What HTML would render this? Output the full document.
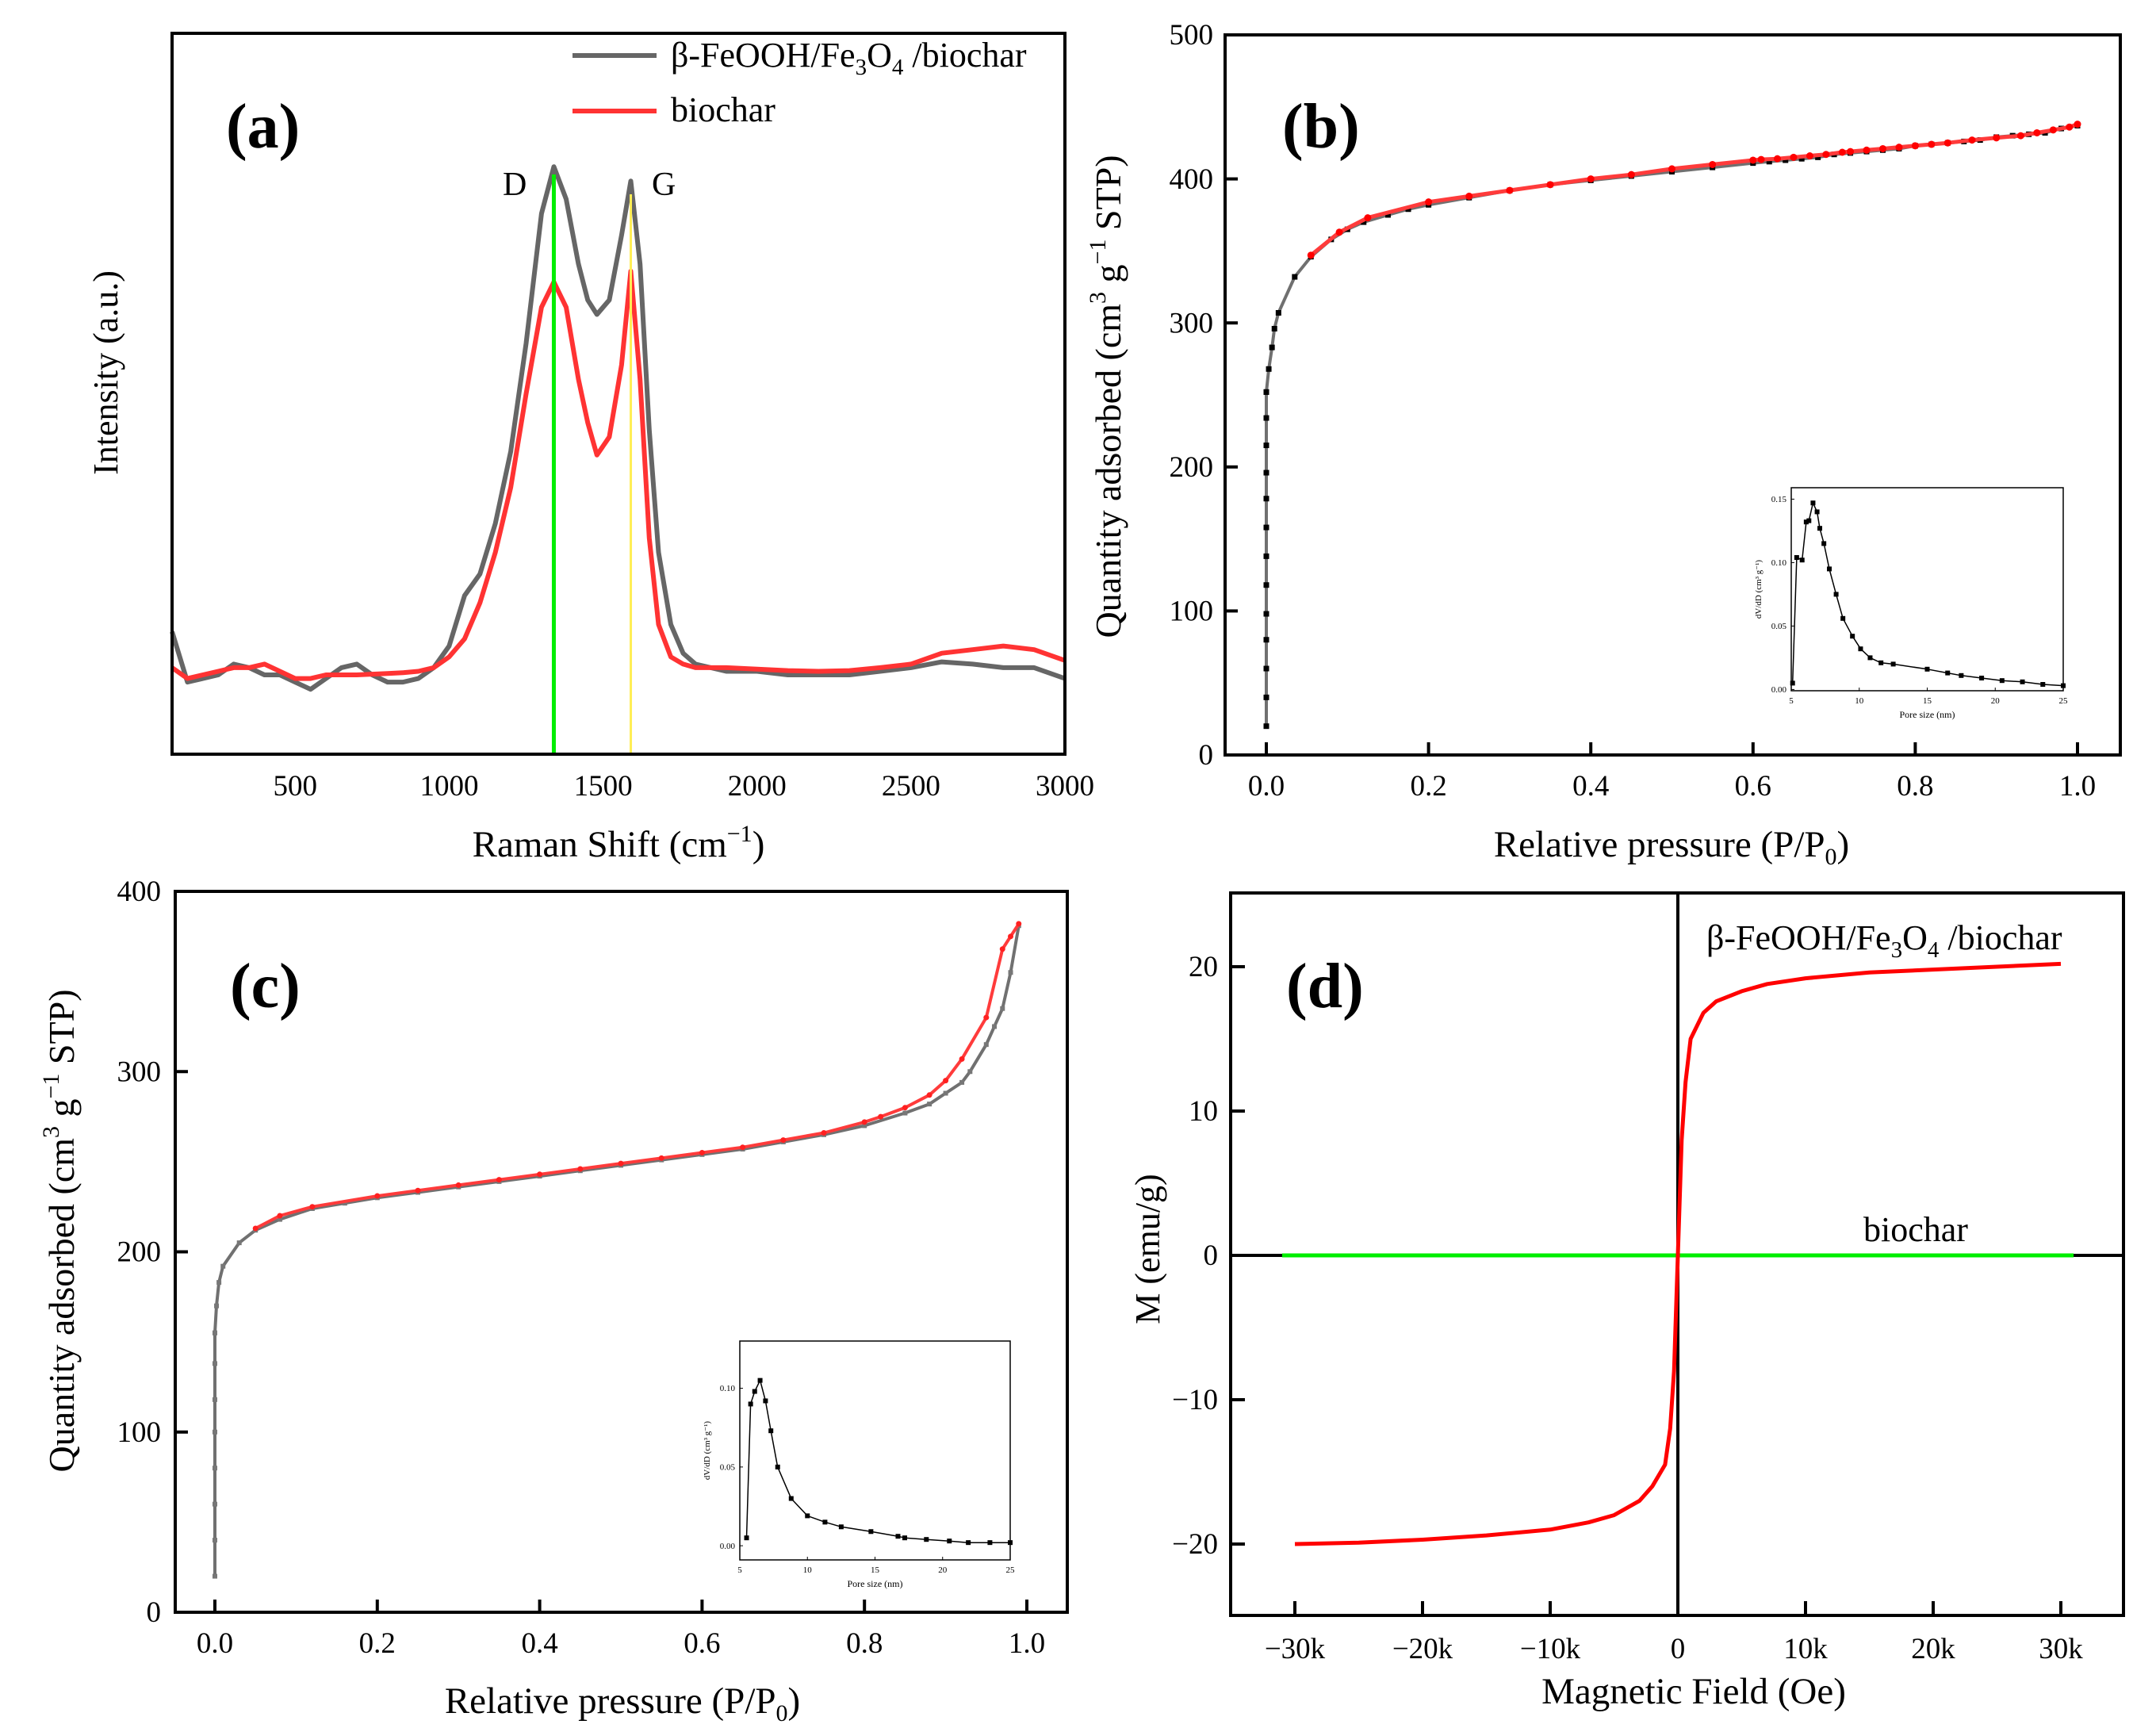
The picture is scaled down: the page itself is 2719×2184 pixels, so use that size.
<!DOCTYPE html>
<html><head><meta charset="utf-8"><style>
html,body{margin:0;padding:0;background:#fff}
svg{display:block}
text{font-family:"Liberation Serif",serif;fill:#000}
</style></head><body>
<svg id="fig" xmlns="http://www.w3.org/2000/svg" width="2719" height="2184" viewBox="0 0 2719 2184">
<rect x="0" y="0" width="2719" height="2184" fill="#fff"/>
<g id="pa"></g>
<g id="pb"></g>
<g id="pc"></g>
<g id="pd"></g>
<text x="285" y="186" font-size="80" font-weight="bold">(a)</text>
<text x="1617" y="186" font-size="80" font-weight="bold">(b)</text>
<text x="290" y="1270" font-size="80" font-weight="bold">(c)</text>
<text x="1622" y="1270" font-size="80" font-weight="bold">(d)</text>
<text x="780" y="1080" font-size="47" text-anchor="middle">Raman Shift (cm<tspan font-size="30" dy="-19">−1</tspan><tspan dy="19">)</tspan></text>
<text transform="translate(148,470) rotate(-90)" font-size="44" text-anchor="middle">Intensity (a.u.)</text>
<text x="2108" y="1080" font-size="47" text-anchor="middle">Relative pressure (P/P<tspan font-size="30" dy="10">0</tspan><tspan dy="-10">)</tspan></text>
<text transform="translate(1413,500) rotate(-90)" font-size="46" text-anchor="middle">Quantity adsorbed (cm<tspan font-size="30" dy="-19">3</tspan><tspan dy="19"> g</tspan><tspan font-size="30" dy="-19">−1</tspan><tspan dy="19"> STP)</tspan></text>
<text x="785" y="2160" font-size="47" text-anchor="middle">Relative pressure (P/P<tspan font-size="30" dy="10">0</tspan><tspan dy="-10">)</tspan></text>
<text transform="translate(93,1552) rotate(-90)" font-size="46" text-anchor="middle">Quantity adsorbed (cm<tspan font-size="30" dy="-19">3</tspan><tspan dy="19"> g</tspan><tspan font-size="30" dy="-19">−1</tspan><tspan dy="19"> STP)</tspan></text>
<text x="2136" y="2148" font-size="47" text-anchor="middle">Magnetic Field (Oe)</text>
<text transform="translate(1462,1575) rotate(-90)" font-size="44" text-anchor="middle">M (emu/g)</text>
<text x="846" y="84" font-size="44">β-FeOOH/Fe<tspan font-size="29" dy="10">3</tspan><tspan dy="-10">O</tspan><tspan font-size="29" dy="10">4</tspan><tspan dy="-10"> /biochar</tspan></text>
<text x="846" y="153" font-size="44">biochar</text>
<text x="634" y="246" font-size="42">D</text>
<text x="822" y="246" font-size="42">G</text>
<text x="2152" y="1197" font-size="44">β-FeOOH/Fe<tspan font-size="29" dy="10">3</tspan><tspan dy="-10">O</tspan><tspan font-size="29" dy="10">4</tspan><tspan dy="-10"> /biochar</tspan></text>
<text x="2350" y="1565" font-size="44">biochar</text>
</svg>
<script>
// ---------- data ----------
const ramanX = [100,150,200,250,300,350,400,450,500,550,600,650,700,750,800,850,900,950,1000,1050,1100,1150,1200,1250,1300,1340,1380,1420,1450,1480,1520,1560,1590,1620,1650,1680,1720,1760,1800,1900,2000,2100,2200,2300,2400,2500,2600,2700,2800,2900,3000];
const ramanComposite = [17,10,10.5,11,12.5,12,11,11,10,9,10.5,12,12.5,11,10,10,10.5,12,15,22,25,32,42,57,75,81.5,77,68,63,61,63,72,79.5,68,45,28,18,14,12.5,11.5,11.5,11,11,11,11.5,12,12.8,12.5,12,12,10.5];
const ramanBiochar = [12,10.5,11,11.5,12,12,12.5,11.5,10.5,10.5,11,11,11,11.1,11.2,11.3,11.5,12,13.5,16,21,28,37,50,62,65.5,62,52,46,41.5,44,54,67,52,30,18,13.5,12.5,12,12,11.8,11.6,11.5,11.6,12,12.5,14,14.5,15,14.5,13];
const ramanTicks = [500,1000,1500,2000,2500,3000];
const peakD = 1340, peakG = 1590;

const bP = [0,0,0,0,0,0,0,0,0,0,0,0,0,0,0.003,0.007,0.01,0.015,0.035,0.055,0.08,0.1,0.12,0.15,0.175,0.2,0.25,0.3,0.35,0.4,0.45,0.5,0.55,0.6,0.62,0.64,0.66,0.68,0.7,0.72,0.74,0.76,0.78,0.8,0.82,0.84,0.86,0.88,0.9,0.92,0.94,0.96,0.98,1.0];
const bAds = [20,40,60,80,98,118,138,158,178,196,215,234,252,252,268,283,296,307,332,346,358,365,370,375,379,382,387,392,396,399,402,405,408,411,412,413,414,415,417,418,419,420,421,423,424,425,426,427,429,430,431,432,435,437];
const bDesP = [0.055,0.09,0.125,0.2,0.25,0.3,0.35,0.4,0.45,0.5,0.55,0.6,0.61,0.63,0.65,0.67,0.69,0.71,0.72,0.74,0.76,0.78,0.8,0.82,0.84,0.87,0.9,0.93,0.95,0.97,0.99,1.0];
const bDes = [347,363,373,384,388,392,396,400,403,407,410,413,413.5,414,415,416,417,418.5,419,420,421,422,423,424,425,427,428.5,430,432,434,436,438];
const bTicksX = [0,0.2,0.4,0.6,0.8,1.0];
const bTicksY = [0,100,200,300,400,500];
const bPore = [5.1,5.4,5.8,6.1,6.3,6.6,6.9,7.1,7.4,7.8,8.3,8.8,9.5,10.1,10.8,11.6,12.5,15,16.5,17.5,19,20.5,22,23.5,25];
const bDv = [0.005,0.104,0.102,0.132,0.133,0.147,0.14,0.127,0.115,0.095,0.075,0.056,0.042,0.032,0.025,0.021,0.020,0.016,0.013,0.011,0.009,0.007,0.006,0.004,0.003];

const cP = [0,0,0,0,0,0,0,0,0,0.002,0.005,0.01,0.03,0.05,0.08,0.12,0.16,0.2,0.25,0.3,0.35,0.4,0.45,0.5,0.55,0.6,0.65,0.7,0.75,0.8,0.85,0.88,0.9,0.92,0.93,0.95,0.96,0.97,0.98,0.99];
const cAds = [20,40,60,80,100,118,138,155,155,170,183,192,205,212,218,224,227,230,233,236,239,242,245,248,251,254,257,261,265,270,277,282,288,294,300,315,325,335,355,381];
const cDesP = [0.05,0.08,0.12,0.2,0.25,0.3,0.35,0.4,0.45,0.5,0.55,0.6,0.65,0.7,0.75,0.8,0.82,0.85,0.88,0.9,0.92,0.95,0.97,0.98,0.99];
const cDes = [213,220,225,231,234,237,240,243,246,249,252,255,258,262,266,272,275,280,287,295,307,330,368,375,382];
const cTicksX = [0,0.2,0.4,0.6,0.8,1.0];
const cTicksY = [0,100,200,300,400];
const cPore = [5.5,5.8,6.1,6.5,6.9,7.3,7.8,8.8,10,11.3,12.5,14.7,16.7,17.2,18.8,20.5,21.9,23.5,25];
const cDv = [0.005,0.09,0.098,0.105,0.092,0.073,0.05,0.03,0.019,0.015,0.012,0.009,0.006,0.005,0.004,0.003,0.002,0.002,0.002];

const dH = [-30,-25,-20,-15,-10,-7,-5,-3,-2,-1,-0.6,-0.3,0,0.3,0.6,1,2,3,5,7,10,15,20,25,30];
const dM = [-20,-19.9,-19.7,-19.4,-19,-18.5,-18,-17,-16,-14.5,-12,-8,0,8,12,15,16.8,17.6,18.3,18.8,19.2,19.6,19.8,20,20.2];
const dBioH = [-31,31];
const dBioM = [0,0];
const dTicksX = [-30,-20,-10,0,10,20,30];
const dTickLabelsX = ['−30k','−20k','−10k','0','10k','20k','30k'];
const dTicksY = [-20,-10,0,10,20];
const dTickLabelsY = ['−20','−10','0','10','20'];
const inTicksX = [5,10,15,20,25];

// ---------- helpers ----------
const NS = 'http://www.w3.org/2000/svg';
function mk(tag, parent){ const e = document.createElementNS(NS, tag); parent.appendChild(e); return e; }
function lin(d0,d1,r0,r1){ return v => r0 + (v-d0)/(d1-d0)*(r1-r0); }
function line(g, xs, ys, fx, fy, color, w, name){
  const p = mk('polyline', g);
  
  
  p.setAttribute('points', xs.map((x,i)=>fx(x).toFixed(1)+','+fy(ys[i]).toFixed(1)).join(' '));
  p.setAttribute('fill','none'); p.setAttribute('stroke',color); p.setAttribute('stroke-width',w);
  p.setAttribute('stroke-linejoin','round');
  return p;
}
function squares(g, xs, ys, fx, fy, color, s, name){
  xs.forEach((x,i)=>{ const r = mk('rect', g);
    
    
    r.setAttribute('x', fx(x)-s/2); r.setAttribute('y', fy(ys[i])-s/2);
    r.setAttribute('width', s); r.setAttribute('height', s); r.setAttribute('fill', color); });
}
function dots(g, xs, ys, fx, fy, color, r0, name){
  xs.forEach((x,i)=>{ const c = mk('circle', g);
    
    
    c.setAttribute('cx', fx(x)); c.setAttribute('cy', fy(ys[i])); c.setAttribute('r', r0); c.setAttribute('fill', color); });
}
function frame(g, L,T,R,B, w, name){
  const r = mk('rect', g);
  
  
  r.setAttribute('x',L); r.setAttribute('y',T); r.setAttribute('width',R-L); r.setAttribute('height',B-T);
  r.setAttribute('fill','none'); r.setAttribute('stroke','#000'); r.setAttribute('stroke-width',w);
}
function xticks(g, ticks, labels, fx, B, len, w, ly, fs, name){
  ticks.forEach((t,i)=>{ const l = mk('line', g);
    
    
    l.setAttribute('x1',fx(t)); l.setAttribute('x2',fx(t)); l.setAttribute('y1',B); l.setAttribute('y2',B-len);
    l.setAttribute('stroke','#000'); l.setAttribute('stroke-width',w);
    const tx = mk('text', g);
    
    
    tx.setAttribute('x',fx(t)); tx.setAttribute('y',ly); tx.setAttribute('font-size',fs); tx.setAttribute('text-anchor','middle');
    tx.textContent = labels[i]; });
}
function yticks(g, ticks, labels, fy, L, len, w, lx, fs, name){
  ticks.forEach((t,i)=>{ const l = mk('line', g);
    
    
    l.setAttribute('x1',L); l.setAttribute('x2',L+len); l.setAttribute('y1',fy(t)); l.setAttribute('y2',fy(t));
    l.setAttribute('stroke','#000'); l.setAttribute('stroke-width',w);
    const tx = mk('text', g);
    
    
    tx.setAttribute('x',lx); tx.setAttribute('y',fy(t)+fs*0.33); tx.setAttribute('font-size',fs); tx.setAttribute('text-anchor','end');
    tx.textContent = labels[i]; });
}
function inset(g, L,T,R,B, xs, ys, ymin, ymax, yt, name){
  const fx = lin(5,25,L,R), fy = lin(ymin,ymax,B,T);
  frame(g,L,T,R,B,1.5,name+'-frame');
  line(g, xs, ys, fx, fy, '#000', 1.5, name+'-line');
  squares(g, xs, ys, fx, fy, '#000', 6, name+'-point');
  xticks(g, inTicksX, inTicksX.map(String), fx, B, 4, 1, B+16, 11, name+'-x');
  yticks(g, yt, yt.map(v=>v.toFixed(2)), fy, L, 4, 1, L-6, 11, name+'-y');
  const xl = mk('text', g);
  
  
  xl.setAttribute('x',(L+R)/2); xl.setAttribute('y',B+34); xl.setAttribute('font-size',12); xl.setAttribute('text-anchor','middle');
  xl.textContent = 'Pore size (nm)';
  const yl = mk('text', g);
  
  
  yl.setAttribute('transform','translate('+(L-38)+','+((T+B)/2)+') rotate(-90)'); yl.setAttribute('font-size',11); yl.setAttribute('text-anchor','middle');
  yl.textContent = 'dV/dD (cm³ g⁻¹)';
}

// ---------- panel a ----------
(function(){
  const g = document.getElementById('pa');
  const L=217,T=42,R=1343,B=951;
  const fx = lin(100,3000,L,R), fy = lin(0,100,B,T);
  line(g, ramanX, ramanComposite, fx, fy, '#666', 6, 'composite-spectrum');
  line(g, ramanX, ramanBiochar, fx, fy, '#ff3333', 6, 'biochar-spectrum');
  const d = mk('line', g);
  
  
  d.setAttribute('x1',fx(peakD)); d.setAttribute('x2',fx(peakD)); d.setAttribute('y1',220); d.setAttribute('y2',B);
  d.setAttribute('stroke','#00ee00'); d.setAttribute('stroke-width',5);
  const gg = mk('line', g);
  
  
  gg.setAttribute('x1',fx(peakG)); gg.setAttribute('x2',fx(peakG)); gg.setAttribute('y1',245); gg.setAttribute('y2',B);
  gg.setAttribute('stroke','#ffee55'); gg.setAttribute('stroke-width',3);
  frame(g,L,T,R,B,4,'a-plot-frame');
  xticks(g, ramanTicks, ramanTicks.map(String), fx, B, 0, 0, 1003, 37, 'a-x');
  const l1 = mk('line', g);
  
  
  l1.setAttribute('x1',722); l1.setAttribute('x2',828); l1.setAttribute('y1',70); l1.setAttribute('y2',70);
  l1.setAttribute('stroke','#666'); l1.setAttribute('stroke-width',6);
  const l2 = mk('line', g);
  
  
  l2.setAttribute('x1',722); l2.setAttribute('x2',828); l2.setAttribute('y1',140); l2.setAttribute('y2',140);
  l2.setAttribute('stroke','#ff3333'); l2.setAttribute('stroke-width',6);
})();

// ---------- panel b ----------
(function(){
  const g = document.getElementById('pb');
  const L=1545,T=44,R=2674,B=952;
  const fx = lin(0,1,1597,2620), fy = lin(0,500,B,T);
  line(g, bP, bAds, fx, fy, '#707070', 4, 'b-adsorption-line');
  squares(g, bP, bAds, fx, fy, '#000', 7, 'b-adsorption-point');
  line(g, bDesP, bDes, fx, fy, '#ff3b3b', 5, 'b-desorption-line');
  dots(g, bDesP, bDes, fx, fy, '#ff0000', 4.5, 'b-desorption-point');
  frame(g,L,T,R,B,4,'b-plot-frame');
  xticks(g, bTicksX, bTicksX.map(v=>v.toFixed(1)), fx, B, 16, 4, 1003, 37, 'b-x');
  yticks(g, bTicksY, bTicksY.map(String), fy, L, 16, 4, 1530, 37, 'b-y');
  inset(g, 2259,615,2602,871, bPore, bDv, -0.001, 0.159, [0,0.05,0.10,0.15], 'b-inset');
})();

// ---------- panel c ----------
(function(){
  const g = document.getElementById('pc');
  const L=221,T=1124,R=1346,B=2033;
  const fx = lin(0,1,271,1295), fy = lin(0,400,B,T);
  line(g, cP, cAds, fx, fy, '#707070', 4, 'c-adsorption-line');
  squares(g, cP, cAds, fx, fy, '#777', 6, 'c-adsorption-point');
  line(g, cDesP, cDes, fx, fy, '#ff3b3b', 4, 'c-desorption-line');
  dots(g, cDesP, cDes, fx, fy, '#ff2020', 3.5, 'c-desorption-point');
  frame(g,L,T,R,B,4,'c-plot-frame');
  xticks(g, cTicksX, cTicksX.map(v=>v.toFixed(1)), fx, B, 16, 4, 2084, 37, 'c-x');
  yticks(g, cTicksY, cTicksY.map(String), fy, L, 16, 4, 203, 37, 'c-y');
  inset(g, 933,1691,1274,1967, cPore, cDv, -0.009, 0.130, [0,0.05,0.10], 'c-inset');
})();

// ---------- panel d ----------
(function(){
  const g = document.getElementById('pd');
  const L=1552,T=1126,R=2678,B=2037;
  const fx = lin(-30,30,1633,2599), fy = lin(-20,20,1947,1219);
  const h = mk('line', g);
  
  
  h.setAttribute('x1',L); h.setAttribute('x2',R); h.setAttribute('y1',fy(0)); h.setAttribute('y2',fy(0));
  h.setAttribute('stroke','#000'); h.setAttribute('stroke-width',4);
  const v = mk('line', g);
  
  
  v.setAttribute('x1',fx(0)); v.setAttribute('x2',fx(0)); v.setAttribute('y1',T); v.setAttribute('y2',B);
  v.setAttribute('stroke','#000'); v.setAttribute('stroke-width',4);
  line(g, dBioH, dBioM, fx, fy, '#00ee00', 5, 'biochar-magnetization');
  line(g, dH, dM, fx, fy, '#ff0000', 5, 'composite-magnetization');
  frame(g,L,T,R,B,4,'d-plot-frame');
  xticks(g, dTicksX, dTickLabelsX, fx, B, 18, 4, 2091, 37, 'd-x');
  yticks(g, dTicksY, dTickLabelsY, fy, L, 18, 4, 1536, 37, 'd-y');
})();
</script>
</body></html>
